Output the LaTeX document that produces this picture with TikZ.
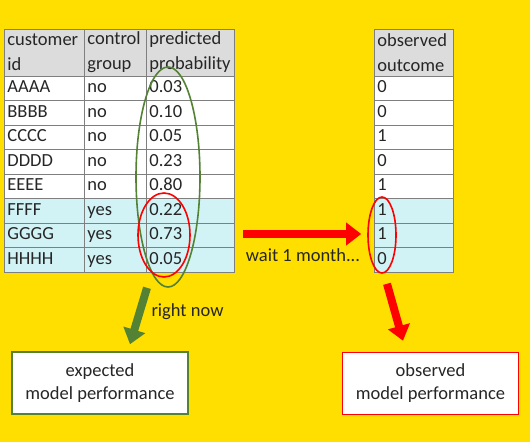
\documentclass[tikz,border=0pt]{standalone}
\usepackage{fontspec}
\setmainfont{Carlito}
\usetikzlibrary{shapes.geometric,arrows.meta}
\definecolor{bgyellow}{HTML}{FFDF00}
\definecolor{headgray}{HTML}{DCDCDC}
\definecolor{rowcyan}{HTML}{D2F3F6}
\definecolor{cellgray}{HTML}{7F7F7F}
\definecolor{darkgreen}{HTML}{548235}
\definecolor{brightred}{HTML}{FF0000}

\begin{document}
\begin{tikzpicture}
[
    x=1pt, y=-1pt,
    every node/.style={font=\fontsize{18.5}{25}\selectfont, text=black!85},
    cell/.style={draw=cellgray, line width=0.8pt, anchor=west, align=left, inner xsep=3pt, inner ysep=0pt},
    row/.style={cell, minimum height=24.5pt, text height=12.5pt, text depth=4pt},
    head/.style={cell, fill=headgray, minimum height=47pt},
    ring/.style={draw, ellipse, line width=1.6pt, inner sep=0pt},
    fatarrow/.style={line width=8pt, -{Triangle[length=15pt,width=22pt]}},
    resultbox/.style={draw, fill=white, line width=1.6pt, minimum width=176pt, minimum height=62pt, align=center, font=\fontsize{18.5}{23}\selectfont}
]
    \fill[bgyellow] (0,0) rectangle (530,442);
    \useasboundingbox (0,0) rectangle (530,442);

    \node[head, text width=74pt] (hcust) at (4,52.5) {customer\\id};
    \node[head, text width=56pt] (hgrp) at (84,52.5) {control\\group};
    \node[head, text width=82pt] (hprob) at (146,52.5) {predicted\\probability};
    \node[head, text width=73pt] (hobs) at (374,52.5) {observed\\outcome};

    \foreach \cust/\grp/\prob/\obs/\shade [count=\r] in
        {AAAA/no/0.03/0/white, BBBB/no/0.10/0/white, CCCC/no/0.05/1/white,
         DDDD/no/0.23/0/white, EEEE/no/0.80/1/white, FFFF/yes/0.22/1/rowcyan,
         GGGG/yes/0.73/1/rowcyan, HHHH/yes/0.05/0/rowcyan}
    {
        \node[row, fill=\shade, text width=74pt] (cust-\r) at (4,{63.75+24.5*\r}) {\cust};
        \node[row, fill=\shade, text width=56pt] (grp-\r) at (84,{63.75+24.5*\r}) {\grp};
        \node[row, fill=\shade, text width=82pt] (prob-\r) at (146,{63.75+24.5*\r}) {\prob};
        \node[row, fill=\shade, text width=73pt] (obs-\r) at (374,{63.75+24.5*\r}) {\obs};
    }

    \node[ring, draw=darkgreen, minimum width=64pt, minimum height=220pt] (allpred) at (168,177) {};
    \node[ring, draw=brightred, minimum width=52pt, minimum height=84pt] (ctrlpred) at (164,235) {};
    \node[ring, draw=brightred, minimum width=28pt, minimum height=76pt] (ctrlobs) at (382,235) {};

    \node[resultbox, draw=darkgreen] (expected) at (100,383) {expected\\model performance};
    \node[resultbox, draw=brightred] (observed) at (430.5,383.5) {observed\\model performance};

    \coordinate (waitstart) at (243,234);
    \draw[fatarrow, brightred] (waitstart) -- ([xshift=-6pt,yshift=1pt]ctrlobs.west);
    \node (wait) at (303,255) {wait 1 month...};

    \draw[fatarrow, darkgreen] ([xshift=-21pt]allpred.south) -- ([xshift=30pt,yshift=7pt]expected.north);
    \node[anchor=west] (rightnow) at (148,312) {right now};

    \draw[fatarrow, brightred] ([xshift=5pt,yshift=-10pt]ctrlobs.south) -- ([xshift=-27.5pt,yshift=11pt]observed.north);
\end{tikzpicture}
\end{document}
